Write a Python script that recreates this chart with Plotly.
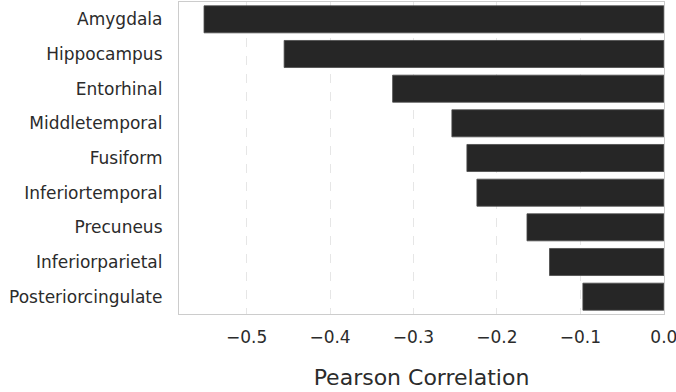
import plotly.graph_objects as go

# Brain regions and their Pearson correlation coefficients
regions = [
    "Amygdala",
    "Hippocampus",
    "Entorhinal",
    "Middletemporal",
    "Fusiform",
    "Inferiortemporal",
    "Precuneus",
    "Inferiorparietal",
    "Posteriorcingulate",
]
correlations = [-0.551, -0.455, -0.325, -0.254, -0.236, -0.224, -0.164, -0.137, -0.097]

x_ticks = [-0.5, -0.4, -0.3, -0.2, -0.1, 0.0]

TEXT = "#2b2b2b"
SPINE = "#cccccc"
FONT = "DejaVu Sans"

fig = go.Figure(
    go.Bar(
        x=correlations,
        y=regions,
        orientation="h",
        width=0.78,
        marker=dict(color="#262626", line=dict(color="#4a4a4a", width=0.8)),
    )
)

fig.update_layout(
    width=676,
    height=392,
    margin=dict(l=179, r=12, t=2, b=78),
    paper_bgcolor="white",
    plot_bgcolor="white",
    showlegend=False,
    font=dict(family=FONT, color=TEXT),
)

fig.update_xaxes(
    range=[-0.581, 0.0002],
    automargin=False,
    tickvals=x_ticks,
    tickformat=".1f",
    tickfont=dict(size=17, color=TEXT, family=FONT),
    ticks="",
    ticklabelstandoff=7,
    ticklabeloverflow="allow",
    showgrid=True,
    gridcolor="#e6e6e6",
    griddash="dash",
    gridwidth=1,
    zeroline=False,
    showline=True,
    linecolor=SPINE,
    linewidth=1.2,
    mirror=True,
    title=dict(text="Pearson Correlation", font=dict(size=22, color=TEXT, family=FONT), standoff=24),
)

fig.update_yaxes(
    categoryorder="array",
    categoryarray=regions,
    range=[8.5, -0.5],
    automargin=False,
    tickfont=dict(size=17, color=TEXT, family=FONT),
    ticks="",
    ticklabelstandoff=12,
    showgrid=False,
    zeroline=False,
    showline=True,
    linecolor=SPINE,
    linewidth=1.2,
    mirror=True,
)

fig.write_html("out.html")
